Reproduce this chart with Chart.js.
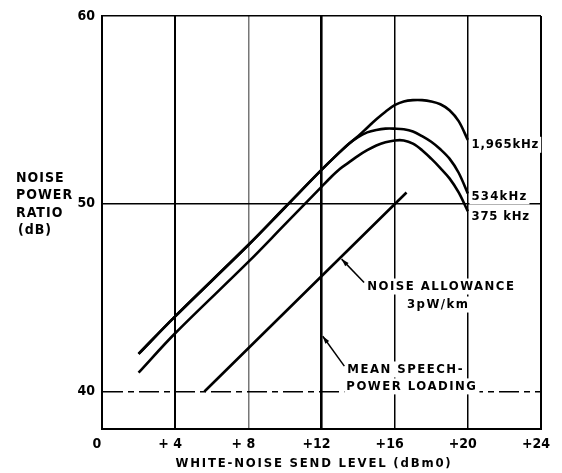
<!DOCTYPE html>
<html>
<head>
<meta charset="utf-8">
<script src="https://cdn.jsdelivr.net/npm/chart.js@4.4.1/dist/chart.umd.min.js"></script>
<style>
  html, body { margin: 0; padding: 0; background: #fff; }
  #wrap { width: 562px; height: 473px; }
</style>
</head>
<body>
<div id="wrap"><canvas id="c" width="562" height="473"></canvas></div>
<script>
// values
const xTickValues = [0, 4, 8, 12, 16, 20, 24];
const xTickLabels = ['0', '+ 4', '+ 8', '+12', '+16', '+20', '+24'];
const yTickValues = [40, 50, 60];

const level1965 = [2, 4, 8, 10, 12, 13, 13.5, 14, 14.5, 15, 15.5, 16, 16.5, 17, 17.5, 18, 18.5, 19, 19.5, 20];
const ratio1965 = [42, 44, 47.8, 49.8, 51.8, 52.75, 53.2, 53.6, 54.05, 54.5, 54.9, 55.25, 55.45, 55.52, 55.52, 55.45, 55.3, 54.98, 54.4, 53.4];

const level534 = [2, 4, 8, 10, 12, 13, 13.5, 14, 14.5, 15, 15.5, 16, 16.5, 17, 17.5, 18, 18.5, 19, 19.5, 20];
const ratio534 = [42, 44, 47.8, 49.8, 51.8, 52.75, 53.2, 53.55, 53.8, 53.93, 54.0, 54.0, 53.97, 53.85, 53.6, 53.3, 52.9, 52.4, 51.65, 50.55];

const level375 = [2, 4, 8, 10, 12, 12.5, 13, 13.5, 14, 14.5, 15, 15.5, 16, 16.5, 17, 17.5, 18, 18.5, 19, 19.5, 20];
const ratio375 = [41, 43.1, 46.9, 48.9, 50.9, 51.4, 51.85, 52.2, 52.55, 52.85, 53.1, 53.27, 53.37, 53.37, 53.2, 52.85, 52.4, 51.9, 51.35, 50.6, 49.6];

const levelAllowance = [5.6, 16.65];
const ratioAllowance = [40, 50.6];

const FONT = '"DejaVu Sans Condensed", "Liberation Sans Narrow", "DejaVu Sans", sans-serif';

function pts(xs, ys) {
  return xs.map((x, i) => ({ x: x, y: ys[i] }));
}

// text notes and leader arrows, in data units
const notes = [
  { text: '1,965kHz', x: 20.2, y: 53.14, sp: '0.8px' },
  { text: '534kHz', x: 20.2, y: 50.39, sp: '1.2px' },
  { text: '375 kHz', x: 20.2, y: 49.32, sp: '0.8px' },
  { text: 'NOISE ALLOWANCE', x: 14.5, y: 45.59, sp: '1.5px' },
  { text: '3pW/km', x: 16.67, y: 44.63, sp: '1.5px' },
  { text: 'MEAN SPEECH-', x: 13.41, y: 41.17, sp: '1.5px' },
  { text: 'POWER LOADING', x: 13.36, y: 40.27, sp: '1.5px' }
];
const leaders = [
  { from: [14.33, 45.8], to: [13.1, 47.05] },
  { from: [13.25, 41.35], to: [12.07, 42.94] }
];

const annotate = {
  id: 'annotate',
  afterDatasetsDraw(chart) {
    const { ctx, scales: { x, y } } = chart;
    ctx.save();
    ctx.font = 'bold 13px ' + FONT;
    ctx.textBaseline = 'middle';
    ctx.textAlign = 'left';
    notes.forEach(n => {
      ctx.letterSpacing = n.sp;
      const px = x.getPixelForValue(n.x);
      const py = y.getPixelForValue(n.y);
      const w = ctx.measureText(n.text).width;
      ctx.fillStyle = '#fff';
      ctx.fillRect(px - 2, py - 8, w + 4, 16);
      ctx.fillStyle = '#000';
      ctx.fillText(n.text, px, py);
    });
    ctx.strokeStyle = '#000';
    ctx.fillStyle = '#000';
    ctx.lineWidth = 1.5;
    leaders.forEach(l => {
      const x1 = x.getPixelForValue(l.from[0]), y1 = y.getPixelForValue(l.from[1]);
      const x2 = x.getPixelForValue(l.to[0]), y2 = y.getPixelForValue(l.to[1]);
      ctx.beginPath();
      ctx.moveTo(x1, y1);
      ctx.lineTo(x2, y2);
      ctx.stroke();
      const a = Math.atan2(y2 - y1, x2 - x1);
      ctx.beginPath();
      ctx.moveTo(x2, y2);
      ctx.lineTo(x2 - 8 * Math.cos(a - 0.3), y2 - 8 * Math.sin(a - 0.3));
      ctx.lineTo(x2 - 8 * Math.cos(a + 0.3), y2 - 8 * Math.sin(a + 0.3));
      ctx.closePath();
      ctx.fill();
    });

    // axis titles
    ctx.font = 'bold 14px ' + FONT;
    ctx.letterSpacing = '1px';
    ['NOISE', 'POWER', 'RATIO', '(dB)'].forEach((t, i) => {
      ctx.fillText(t, i === 3 ? 18 : 16, 178 + i * 17.5);
    });
    ctx.font = 'bold 13px ' + FONT;
    ctx.letterSpacing = '1.8px';
    ctx.textAlign = 'center';
    ctx.fillText('WHITE-NOISE SEND LEVEL (dBm0)', 314, 464);
    ctx.restore();
  }
};

const lineStyle = {
  borderColor: '#000',
  borderWidth: 2.6,
  pointRadius: 0,
  fill: false,
  tension: 0.35
};

new Chart(document.getElementById('c'), {
  type: 'line',
  data: {
    datasets: [
      Object.assign({ label: '1965 kHz', data: pts(level1965, ratio1965) }, lineStyle),
      Object.assign({ label: '534 kHz', data: pts(level534, ratio534) }, lineStyle),
      Object.assign({ label: '375 kHz', data: pts(level375, ratio375) }, lineStyle),
      Object.assign({ label: 'Noise allowance 3pW/km', data: pts(levelAllowance, ratioAllowance) }, lineStyle)
    ]
  },
  options: {
    responsive: false,
    animation: false,
    events: [],
    layout: { padding: { left: 0, right: 18, top: 16, bottom: 0 } },
    plugins: { legend: { display: false }, tooltip: { enabled: false } },
    scales: {
      x: {
        type: 'linear',
        min: 0,
        max: 24,
        afterBuildTicks: s => { s.ticks = xTickValues.map(v => ({ value: v })); },
        afterFit: s => { s.height = 44; },
        ticks: {
          padding: 7,
          labelOffset: -5,
          color: '#000',
          font: { family: FONT, size: 14, weight: 'bold' },
          callback: v => xTickLabels[xTickValues.indexOf(v)]
        },
        grid: {
          drawTicks: false,
          color: c => (c.tick && c.tick.value === 8 ? '#777' : '#000'),
          lineWidth: c => {
            const v = c.tick ? c.tick.value : 0;
            if (v === 4 || v === 0 || v === 24) return 2;
            if (v === 12) return 2.6;
            return 1.5;
          }
        },
        border: { color: '#000', width: 2 }
      },
      y: {
        type: 'linear',
        min: 38,
        max: 60,
        afterBuildTicks: s => { s.ticks = yTickValues.map(v => ({ value: v })); },
        afterFit: s => { s.width = 102; },
        ticks: {
          padding: 7,
          color: '#000',
          font: { family: FONT, size: 14, weight: 'bold' }
        },
        grid: {
          drawTicks: false,
          color: '#000',
          lineWidth: 1.5
        },
        border: {
          color: '#000',
          width: 2,
          dash: c => (c.tick && c.tick.value === 40 ? [20, 5, 6, 5] : [])
        }
      }
    }
  },
  plugins: [annotate]
});
</script>
</body>
</html>
